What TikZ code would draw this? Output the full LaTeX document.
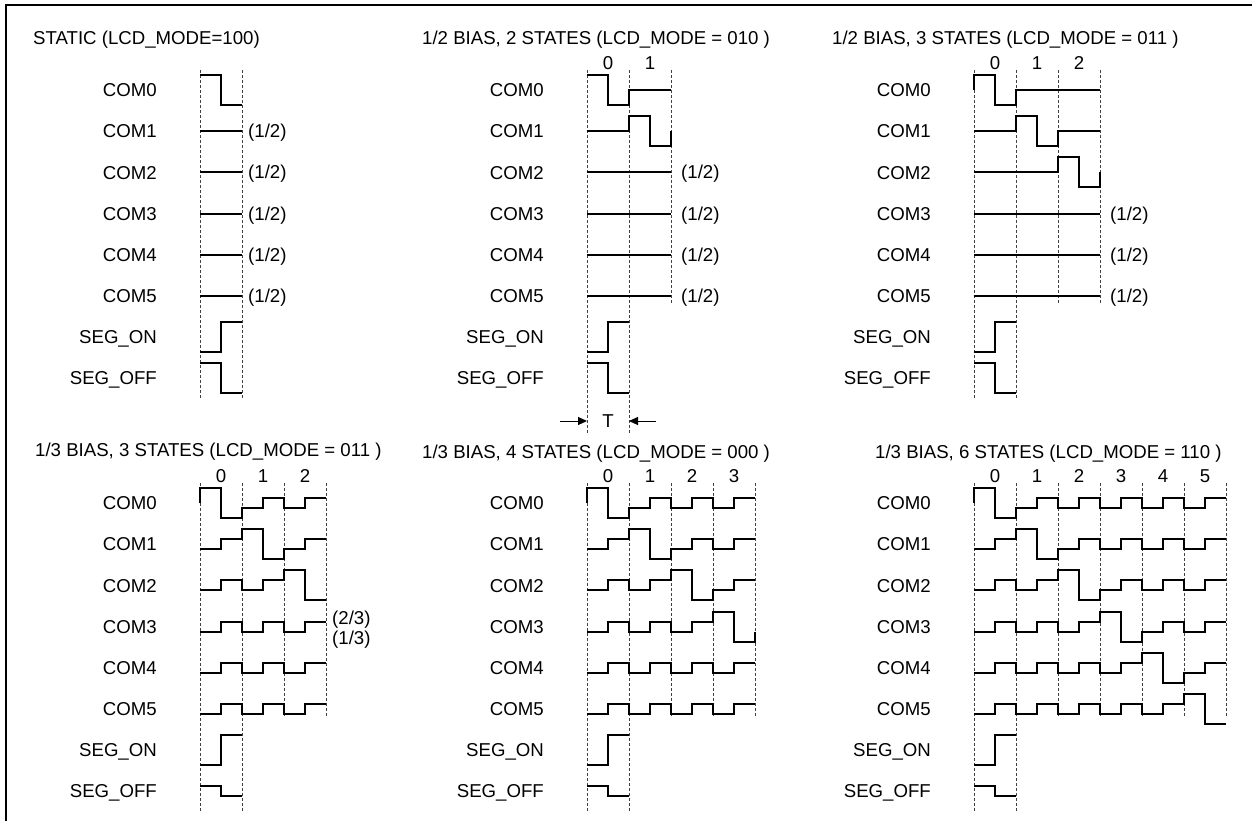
\documentclass[tikz,border=0pt]{standalone}
\usepackage{fontspec}
\setmainfont{Liberation Sans}
\usetikzlibrary{arrows.meta,positioning,calc}

\begin{document}
\begin{tikzpicture}[x=1bp, y=-1bp,
    every node/.style={font=\fontsize{18.7}{21}\selectfont, inner sep=0pt, text height=13.4pt, text depth=0pt},
    wave/.style={line width=1.8bp, line join=miter},
    grid line/.style={black!75, line width=0.8bp, dash pattern=on 3bp off 2bp},
    siglabel/.style={anchor=east},
    lvl/.style={anchor=west}]
    % Define dimensions
    \def\T{42}
    \def\H{21}
    \def\dy{41.2}

    \useasboundingbox (0,0) rectangle (1252,821);

    % Draw frame
    \draw[line width=2bp] (6,830) -- (6,5) -- (1260,5);

    % Titles
    \node[anchor=west] (title1) at (33,38) {STATIC (LCD\_MODE=100)};
    \node[anchor=west] (title2) at (422,38) {1/2 BIAS, 2 STATES (LCD\_MODE = 010 )};
    \node[anchor=west] (title3) at (832,38) {1/2 BIAS, 3 STATES (LCD\_MODE = 011 )};
    \node[anchor=west] (title4) at (35,450) {1/3 BIAS, 3 STATES (LCD\_MODE = 011 )};
    \node[anchor=west] (title5) at (422,452) {1/3 BIAS, 4 STATES (LCD\_MODE = 000 )};
    \node[anchor=west] (title6) at (875,452) {1/3 BIAS, 6 STATES (LCD\_MODE = 110 )};

    % Draw panels
    \foreach \p/\px/\py/\n/\ia/\ib/\stt/\et in {1/200/90/1/0/0/0/0, 2/587/90/2/0/0/0/1, 3/974/90/3/0/0/1/1,
        4/200/503/3/5/-5/1/0, 5/587/503/4/5/-5/1/1, 6/974/503/6/5/-5/1/0} {
      \begin{scope}[shift={(\px,\py)}]
        \pgfmathtruncatemacro\last{\n-1}
        \pgfmathsetmacro\gap{ifthenelse(\n==1,6,10)}
        \pgfmathsetmacro\so{ifthenelse(\ia==0,15,5)}
        \pgfmathtruncatemacro\ron{round(6*\dy)}
        \pgfmathtruncatemacro\roff{round(7*\dy)}

        % state borders
        \foreach \j in {0,...,\n} {
          \pgfmathsetmacro\yend{ifthenelse(\j<2, ifthenelse(\p==2,345,7*\dy+20), 5*\dy+9)}
          \draw[grid line] (\j*\T,-20) -- (\j*\T,\yend);
        }

        % state numbers
        \ifnum\n>1
          \foreach \s in {0,...,\last}
            \node (num\s-\p) at (\s*\T+\H,-27) {\s};
        \fi

        % signal names
        \foreach \k in {0,...,5}
          \node[siglabel] (com\k-\p) at (-43,\k*\dy) {COM\k};
        \node[siglabel] (segon-\p) at (-43,\ron) {SEG\_ON};
        \node[siglabel] (segoff-\p) at (-43,\roff) {SEG\_OFF};

        % COM waveforms
        \foreach \k in {0,...,5} {
          \pgfmathtruncatemacro\ry{round(\k*\dy)}
          \pgfmathsetmacro\st{ifthenelse(\k==0, ifthenelse(\stt==1,0,-15), \ia)}
          \pgfmathsetmacro\en{ifthenelse(\k==\last, ifthenelse(\et==1,\ia,15), \ib)}
          \draw[wave] (0,{\ry+\st})
            \foreach \s in {0,...,\last} {
              -- ({\s*\T},{\ry+ifthenelse(\s==\k,-15,\ia)})
              -- ({\s*\T+\H},{\ry+ifthenelse(\s==\k,-15,\ia)})
              -- ({\s*\T+\H},{\ry+ifthenelse(\s==\k,15,\ib)})
              -- ({\s*\T+\T},{\ry+ifthenelse(\s==\k,15,\ib)})
            } -- (\n*\T,{\ry+\en});
          \ifnum\p<4 \ifnum\k<\n \else
            \node[lvl] (half\k-\p) at (\n*\T+\gap,\ry) {(1/2)};
          \fi \fi
        }

        % SEG waveforms
        \draw[wave] (0,\ron+15) -- (\H,\ron+15) -- (\H,\ron-15) -- (\T,\ron-15);
        \draw[wave] (0,\roff-\so) -- (\H,\roff-\so) -- (\H,\roff+\so) -- (\T,\roff+\so);
      \end{scope}
    }

    % Bias levels
    \node[lvl] (twothird) at (332,618) {(2/3)};
    \node[lvl] (onethird) at (332,638) {(1/3)};

    % Period marker
    \coordinate (tl) at (560,421);
    \coordinate (tr) at (656,421);
    \coordinate (t0) at (587,421);
    \coordinate (t1) at (629,421);
    \node (tlabel) at (608,421) {T};
    \draw[line width=1bp, -{Triangle[length=9bp,width=8bp]}] (tl) -- (t0);
    \draw[line width=1bp, -{Triangle[length=9bp,width=8bp]}] (tr) -- (t1);
\end{tikzpicture}
\end{document}
